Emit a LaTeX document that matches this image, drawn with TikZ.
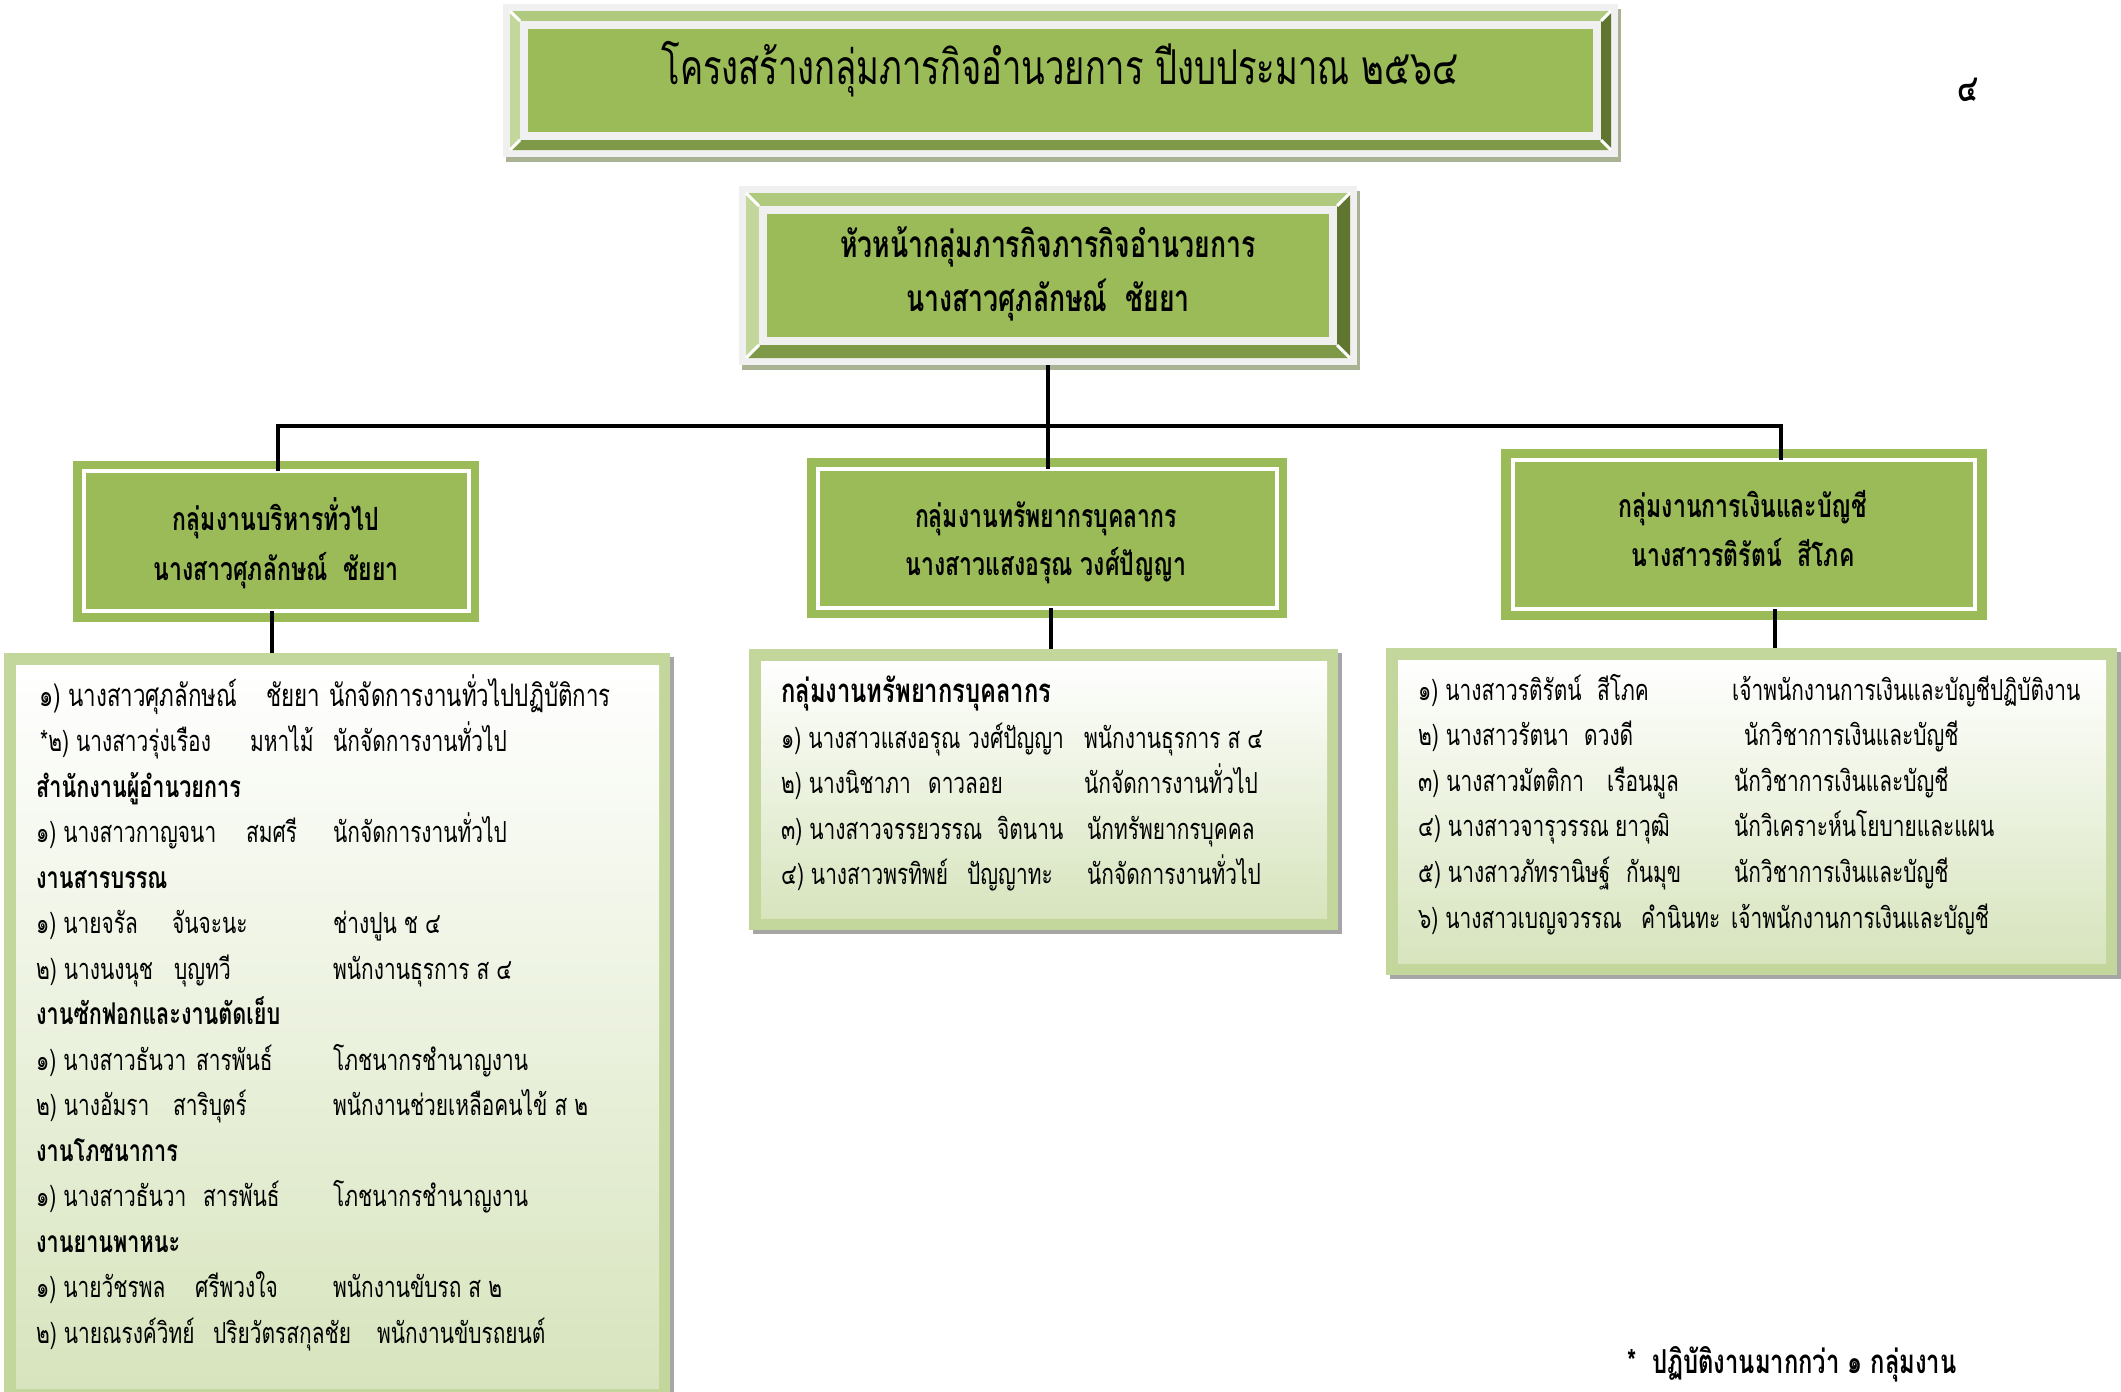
\documentclass[tikz,border=0pt]{standalone}
\usepackage{fontspec}
\newfontfamily\thai[Script=Thai,FakeStretch=0.72]{Loma}
\usetikzlibrary{calc}
\definecolor{face}{HTML}{9BBB59}
\definecolor{bevT}{HTML}{AFC97E}
\definecolor{bevL}{HTML}{C3D69B}
\definecolor{bevR}{HTML}{5F7530}
\definecolor{bevB}{HTML}{7E9A48}
\definecolor{framec}{HTML}{F0F0F0}
\definecolor{shad}{HTML}{A9B393}
\definecolor{lbord}{HTML}{C3D69B}
\definecolor{lbot}{HTML}{D7E4BD}
\definecolor{lshad}{HTML}{A6A6A6}
\newcommand{\bevelbox}[6]{%
 \fill[shad] ({#2+3},{#3+5}) rectangle ({#4+3},{#5+5});
 \node[fill=framec, inner sep=0pt, outer sep=0pt, minimum width={#4-#2}, minimum height={#5-#3}] (#1) at ({(#2+#4)/2},{(#3+#5)/2}) {};
 \coordinate (#1P1) at ({#2+7},{#3+7});
 \coordinate (#1P2) at ({#4-7},{#3+7});
 \coordinate (#1P3) at ({#4-7},{#5-7});
 \coordinate (#1P4) at ({#2+7},{#5-7});
 \coordinate (#1Q1) at ({#2+7+#6},{#3+7+#6});
 \coordinate (#1Q2) at ({#4-7-#6},{#3+7+#6});
 \coordinate (#1Q3) at ({#4-7-#6},{#5-7-#6});
 \coordinate (#1Q4) at ({#2+7+#6},{#5-7-#6});
 \fill[bevT] (#1P1)--(#1P2)--(#1Q2)--(#1Q1)--cycle;
 \fill[bevR] (#1P2)--(#1P3)--(#1Q3)--(#1Q2)--cycle;
 \fill[bevB] (#1P3)--(#1P4)--(#1Q4)--(#1Q3)--cycle;
 \fill[bevL] (#1P4)--(#1P1)--(#1Q1)--(#1Q4)--cycle;
 \draw[white, line width=3pt] (#1P1)--(#1Q1) (#1P2)--(#1Q2) (#1P3)--(#1Q3) (#1P4)--(#1Q4);
 \fill[framec] (#1Q1) rectangle (#1Q3);
 \fill[face] ({#2+15+#6},{#3+15+#6}) rectangle ({#4-15-#6},{#5-15-#6});
}
\newcommand{\trow}[8]{%
 \node[item] (#1a) at (#3,#2) {#4};
 \node[item] (#1b) at (#5,#2) {#6};
 \node[item] (#1c) at (#7,#2) {#8};}
\newcommand{\listbox}[5]{%
 \fill[lshad] ({#2+4},{#3+4}) rectangle ({#4+4},{#5+4});
 \node[fill=lbord, inner sep=0pt, outer sep=0pt, minimum width={#4-#2}, minimum height={#5-#3}] (#1) at ({(#2+#4)/2},{(#3+#5)/2}) {};
 \shade[top color=white, bottom color=lbot] ({#2+12},{#3+12}) rectangle ({#4-11},{#5-12});
}
\begin{document}
\begin{tikzpicture}[x=1pt,y=-1pt,
  titletxt/.style={font=\thai\fontsize{48}{54}\selectfont, anchor=base, inner sep=0pt},
  headtxt/.style={font=\thai\bfseries\fontsize{37}{42}\selectfont, anchor=base, inner sep=0pt},
  grptxt/.style={font=\thai\bfseries\fontsize{32}{38}\selectfont, anchor=base, inner sep=0pt},
  item/.style={font=\thai\fontsize{29}{34}\selectfont, anchor=base west, inner sep=0pt},
  itembig/.style={font=\thai\fontsize{31}{36}\selectfont, anchor=base west, inner sep=0pt},
  itemb/.style={font=\thai\bfseries\fontsize{30}{34}\selectfont, anchor=base west, inner sep=0pt},
  grpbox/.style={draw=white, line width=4pt, fill=face, inner sep=0pt, outer sep=0pt},
  conn/.style={line width=4pt, black, line join=miter}]
\useasboundingbox (0,0) rectangle (2121,1392);
\fill[white] (0,0) rectangle (2121,1392);

% title and head
\bevelbox{t}{503}{4}{1618}{157}{10}
\node[titletxt] (tt) at (1060,84) {โครงสร้างกลุ่มภารกิจอำนวยการ ปีงบประมาณ ๒๕๖๔};
\bevelbox{h}{739}{186}{1357}{365}{13}
\node[headtxt] (ht1) at (1048,257) {หัวหน้ากลุ่มภารกิจภารกิจอำนวยการ};
\node[headtxt] (ht2) at (1048,311) {นางสาวศุภลักษณ์\ \ ชัยยา};
\node[font=\thai\bfseries\fontsize{38}{44}\selectfont, anchor=base west, inner sep=0pt] (pg) at (1957,101) {๔};

% group boxes
\fill[face] (73,461) rectangle (479,622);
\node[grpbox, minimum width=385, minimum height=140] (g1) at (276.5,541) {};
\fill[face] (807,458) rectangle (1287,618);
\node[grpbox, minimum width=459, minimum height=139] (g2) at (1047.5,538.5) {};
\fill[face] (1501,449) rectangle (1987,620);
\node[grpbox, minimum width=462, minimum height=149] (g3) at (1744,534.5) {};
\node[grptxt] (g1t1) at (276,530) {กลุ่มงานบริหารทั่วไป};
\node[grptxt] (g1t2) at (276,580) {นางสาวศุภลักษณ์\ \ ชัยยา};
\node[grptxt] (g2t1) at (1046,527) {กลุ่มงานทรัพยากรบุคลากร};
\node[grptxt] (g2t2) at (1046,575) {นางสาวแสงอรุณ วงศ์ปัญญา};
\node[grptxt] (g3t1) at (1743,517) {กลุ่มงานการเงินและบัญชี};
\node[grptxt] (g3t2) at (1743,566) {นางสาวรติรัตน์\ \ สีโภค};

% connectors top
\coordinate (busL) at (278,426);
\coordinate (busR) at (1781,426);
\draw[conn] (h.south) -- (h.south |- g2.north);
\draw[conn] (busL |- g1.north) -- (busL) -- (busR) -- (busR |- g3.north);

% list boxes
\listbox{L1}{4}{653}{670}{1400}
\listbox{L2}{749}{649}{1338}{930}
\listbox{L3}{1386}{648}{2117}{975}

% connectors bottom
\coordinate (d1) at ($(g1.south)+(-5,0)$);
\coordinate (d2) at ($(g2.south)+(3.5,0)$);
\coordinate (d3) at ($(g3.south)+(31,0)$);
\draw[conn] (d1) -- (d1 |- L1.north);
\draw[conn] (d2) -- (d2 |- L2.north);
\draw[conn] (d3) -- (d3 |- L3.north);

% left list
\node[itembig] (a0a) at (39,706) {๑) นางสาวศุภลักษณ์};
\node[itembig] (a0b) at (266,706) {ชัยยา};
\node[itembig] (a0c) at (329,706) {นักจัดการงานทั่วไปปฏิบัติการ};
\trow{a1}{751.5}{40}{*๒) นางสาวรุ่งเรือง}{250}{มหาไม้}{333}{นักจัดการงานทั่วไป}
\node[itemb] (a2) at (36,797) {สำนักงานผู้อำนวยการ};
\trow{a3}{842.5}{36}{๑) นางสาวกาญจนา}{246}{สมศรี}{333}{นักจัดการงานทั่วไป}
\node[itemb] (a4) at (36,888) {งานสารบรรณ};
\trow{a5}{933.5}{36}{๑) นายจรัล}{172}{จันจะนะ}{333}{ช่างปูน ช ๔}
\trow{a6}{979}{36}{๒) นางนงนุช}{174}{บุญทวี}{333}{พนักงานธุรการ ส ๔}
\node[itemb] (a7) at (36,1024.5) {งานซักฟอกและงานตัดเย็บ};
\trow{a8}{1070}{36}{๑) นางสาวธันวา}{196}{สารพันธ์}{333}{โภชนากรชำนาญงาน}
\trow{a9}{1115.5}{36}{๒) นางอัมรา}{173}{สาริบุตร์}{333}{พนักงานช่วยเหลือคนไข้ ส ๒}
\node[itemb] (a10) at (36,1161) {งานโภชนาการ};
\trow{a11}{1206.5}{36}{๑) นางสาวธันวา}{203}{สารพันธ์}{333}{โภชนากรชำนาญงาน}
\node[itemb] (a12) at (36,1252) {งานยานพาหนะ};
\trow{a13}{1297.5}{36}{๑) นายวัชรพล}{195}{ศรีพวงใจ}{333}{พนักงานขับรถ ส ๒}
\trow{a14}{1343}{36}{๒) นายณรงค์วิทย์}{213}{ปริยวัตรสกุลชัย}{377}{พนักงานขับรถยนต์}

% middle list
\node[font=\thai\bfseries\fontsize{33}{38}\selectfont, anchor=base west, inner sep=0pt] (b0) at (781,702) {กลุ่มงานทรัพยากรบุคลากร};
\trow{b1}{748}{781}{๑) นางสาวแสงอรุณ}{968}{วงศ์ปัญญา}{1084}{พนักงานธุรการ ส ๔}
\trow{b2}{793.5}{781}{๒) นางนิชาภา}{928}{ดาวลอย}{1084}{นักจัดการงานทั่วไป}
\trow{b3}{839}{781}{๓) นางสาวจรรยวรรณ}{997}{จิตนาน}{1087}{นักทรัพยากรบุคคล}
\trow{b4}{884.5}{781}{๔) นางสาวพรทิพย์}{967}{ปัญญาทะ}{1087}{นักจัดการงานทั่วไป}

% right list
\trow{c1}{700}{1418}{๑) นางสาวรติรัตน์}{1597}{สีโภค}{1732}{เจ้าพนักงานการเงินและบัญชีปฏิบัติงาน}
\trow{c2}{745.6}{1418}{๒) นางสาวรัตนา}{1584}{ดวงดี}{1744}{นักวิชาการเงินและบัญชี}
\trow{c3}{791.2}{1418}{๓) นางสาวมัตติกา}{1607}{เรือนมูล}{1734}{นักวิชาการเงินและบัญชี}
\trow{c4}{836.8}{1418}{๔) นางสาวจารุวรรณ}{1615}{ยาวุฒิ}{1734}{นักวิเคราะห์นโยบายและแผน}
\trow{c5}{882.4}{1418}{๕) นางสาวภัทรานิษฐ์}{1626}{กันมุข}{1734}{นักวิชาการเงินและบัญชี}
\trow{c6}{928}{1418}{๖) นางสาวเบญจวรรณ}{1641}{คำนินทะ}{1731}{เจ้าพนักงานการเงินและบัญชี}

% footnote
\node[font=\thai\bfseries\fontsize{33}{38}\selectfont, anchor=base west, inner sep=0pt] (fn) at (1627,1373) {*\ \ ปฏิบัติงานมากกว่า ๑ กลุ่มงาน};
\end{tikzpicture}
\end{document}
